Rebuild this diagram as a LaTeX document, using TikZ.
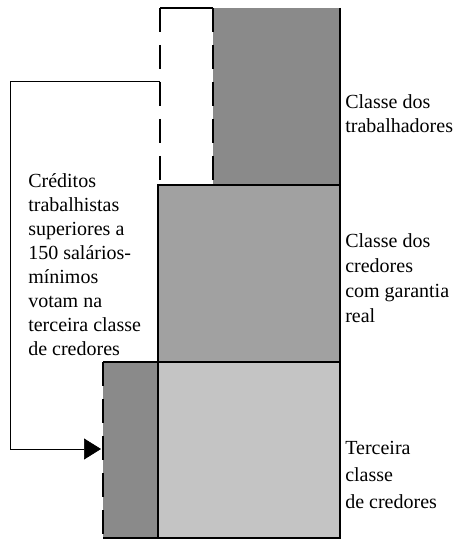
\documentclass[tikz,border=0pt]{standalone}
\usepackage{fontspec}
\setmainfont{Liberation Serif}
\usetikzlibrary{arrows.meta,positioning}

\tikzset{
  blk/.style={inner sep=0pt,outer sep=0pt,anchor=north west,fill=#1},
  lbl/.style={anchor=north west,align=left,inner sep=0pt,font=\fontsize{20}{24}\selectfont},
  solidedge/.style={line width=1.4pt},
  dashedge/.style={line width=2pt,dash pattern=on 24pt off 13pt}
}

\begin{document}
\begin{tikzpicture}[x=1pt,y=-1pt,>={Triangle[length=17pt,width=21pt]},semithick]
\useasboundingbox (0,0) rectangle (472,540);

% blocos
\node[blk=white,minimum width=53pt,minimum height=177pt] (movel) at (160,8) {};
\node[blk=black!46,minimum width=127pt,minimum height=177pt] (trab) at (213,8) {};
\node[blk=black!37,minimum width=182pt,minimum height=177pt] (garantia) at (158,185) {};
\node[blk=black!23,minimum width=182pt,minimum height=176pt] (terceira) at (158,362) {};
\node[blk=black!46,minimum width=55pt,minimum height=176pt] (excesso) at (103,362) {};

% bordas
\draw[solidedge] (movel.north west) -- (movel.north east);
\draw[solidedge] (movel.south west) -- (movel.south east);
\draw[dashedge] (movel.north west) -- (movel.south west);
\draw[dashedge] (movel.north east) -- (movel.south east);
\draw[solidedge] (trab.north east) -- (trab.south east);
\draw[solidedge] (garantia.north west) rectangle (terceira.south east);
\draw[solidedge] (garantia.south west) -- (garantia.south east);
\draw[solidedge] (excesso.north west) -- (excesso.north east);
\draw[solidedge] (excesso.south west) -- (excesso.south east);
\draw[dashedge] (excesso.north west) -- (excesso.south west);

% textos
\node[lbl] (txtmov) at (28,173) {Créditos\\trabalhistas\\superiores a\\150 salários-\\mínimos\\votam na\\terceira classe\\de credores};
\node[lbl] (txttrab) at (345,94) {Classe dos\\trabalhadores};
\node[lbl] (txtgar) at (345,233) {Classe dos\\[1pt]credores\\[1pt]com garantia\\[1pt]real};
\node[lbl] (txtter) at (345,441) {Terceira\\[3pt]classe\\[3pt]de credores};

% seta
\coordinate (topo) at (10,81);
\coordinate (base) at (10,449);
\draw (movel.west |- topo) -- (topo) -- (base) edge[->,shorten >=2pt] (excesso.west |- base);
\end{tikzpicture}
\end{document}
